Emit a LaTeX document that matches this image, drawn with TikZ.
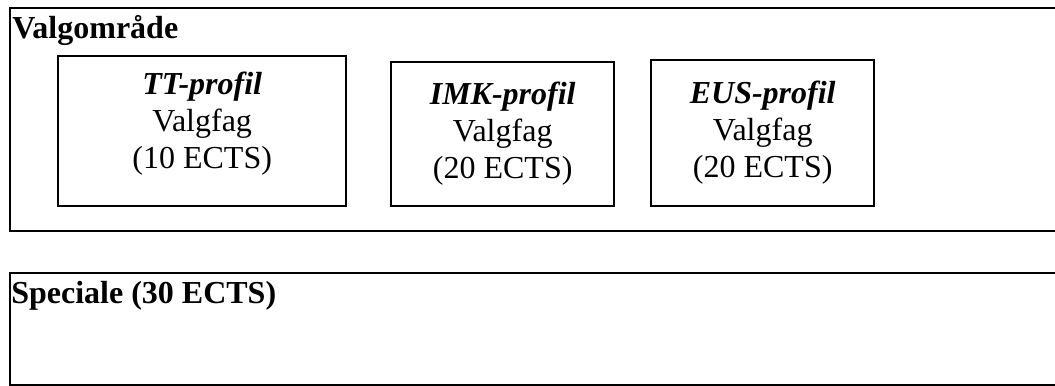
\documentclass[tikz,border=0pt]{standalone}
\usepackage{fontspec}
\setmainfont{Liberation Serif}
\usetikzlibrary{positioning}

\tikzset{
    boks/.style={draw, line width=1.8pt, inner sep=0pt, anchor=north west},
    tekst/.style={inner sep=0pt, align=center, font=\fontsize{24}{27.75}\selectfont},
    overskrift/.style={inner sep=0pt, anchor=base west, font=\fontsize{24}{27.75}\selectfont\bfseries},
}

\begin{document}
\begin{tikzpicture}[x=0.75pt, y=-0.75pt]
        \clip (0,0) rectangle (1055,385);

        % valgomraade
        \node[boks, minimum width=792pt, minimum height=167.25pt] (valg) at (9,7) {};
        \node[overskrift] (valgtxt) at (12,39) {Valgområde};

        \node[boks, minimum width=216pt, minimum height=112.5pt] (tt) at (57,55) {};
        \node[boks, minimum width=167.25pt, minimum height=108pt] (imk) at (390,61) {};
        \node[boks, minimum width=167.25pt, minimum height=109.5pt] (eus) at (650,59) {};

        \node[tekst, below=12.75pt of tt.north] (tttxt) {\textbf{\textit{TT-profil}}\\Valgfag\\(10 ECTS)};
        \node[tekst, below=15.75pt of imk.north] (imktxt) {\textbf{\textit{IMK-profil}}\\Valgfag\\(20 ECTS)};
        \node[tekst, below=16.5pt of eus.north] (eustxt) {\textbf{\textit{EUS-profil}}\\Valgfag\\(20 ECTS)};

        % speciale
        \node[boks, minimum width=792pt, minimum height=84pt] (spec) at (9,272) {};
        \node[overskrift] (spectxt) at (11,303) {Speciale (30 ECTS)};

    \end{tikzpicture}
\end{document}
